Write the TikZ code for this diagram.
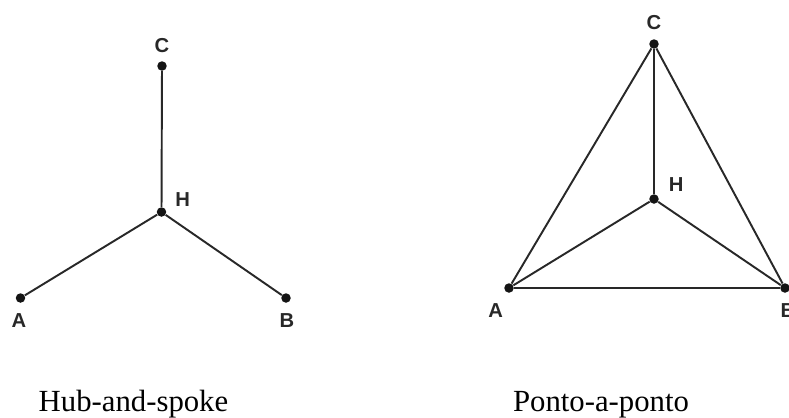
\documentclass[tikz,border=0pt]{standalone}
\usepackage{fontspec}
\setmainfont{Liberation Serif}
\setsansfont{Liberation Sans}
\usepackage{xcolor}
\usepackage{tikz}
\usetikzlibrary{positioning}
\definecolor{inkline}{RGB}{40, 40, 40}
\definecolor{inkdot}{RGB}{20, 20, 20}
\tikzset{
  x=0.02cm, y=-0.02cm,
  citydot/.style={
    circle, fill=inkdot, draw=none, inner sep=0pt, minimum size=0.19cm
  },
  citylabel/.style={
    font=\sffamily\bfseries\fontsize{11.5}{13}\selectfont, inner sep=0pt, text=inkline
  },
  caption/.style={
    font=\rmfamily\fontsize{17.5}{20}\selectfont, anchor=base, inner sep=0pt
  },
  routeline/.style={
    draw=inkline, line width=1.1pt
  }
}

\begin{document}
\begin{tikzpicture}
  \useasboundingbox (0,0) rectangle (789,417);

  \node[citydot] (hubC) at (162,66) {};
  \node[citydot] (hubH) at (161.5,212) {};
  \node[citydot] (hubA) at (20.5,298) {};
  \node[citydot] (hubB) at (286,298) {};

  \node[citylabel, above=0.16cm of hubC] (hubClabel) {C};
  \node[citylabel, above right=0.03cm and 0.2cm of hubH] (hubHlabel) {H};
  \node[citylabel, below=0.21cm of hubA, xshift=-0.03cm] (hubAlabel) {A};
  \node[citylabel, below=0.21cm of hubB, xshift=0.02cm] (hubBlabel) {B};

  \draw[routeline] (hubC) -- (hubH);
  \draw[routeline] (hubA) -- (hubH);
  \draw[routeline] (hubB) -- (hubH);

  \node[citydot] (ptpC) at (654,44) {};
  \node[citydot] (ptpH) at (654,199) {};
  \node[citydot] (ptpA) at (509,288) {};
  \node[citydot] (ptpB) at (785,288) {};

  \node[citylabel, above=0.17cm of ptpC] (ptpClabel) {C};
  \node[citylabel, above right=0.07cm and 0.22cm of ptpH] (ptpHlabel) {H};
  \node[citylabel, below left=0.24cm and 0.04cm of ptpA] (ptpAlabel) {A};
  \node[citylabel, below=0.21cm of ptpB, xshift=0.06cm] (ptpBlabel) {B};

  \draw[routeline] (ptpC) -- (ptpH);
  \draw[routeline] (ptpA) -- (ptpH);
  \draw[routeline] (ptpB) -- (ptpH);
  \draw[routeline] (ptpA) -- (ptpC);
  \draw[routeline] (ptpB) -- (ptpC);
  \draw[routeline] (ptpA) -- (ptpB);

  \node[caption] (hubcaption) at (133.5,411) {Hub-and-spoke};
  \node[caption] (ptpcaption) at (601,411.5) {Ponto-a-ponto};
\end{tikzpicture}
\end{document}
